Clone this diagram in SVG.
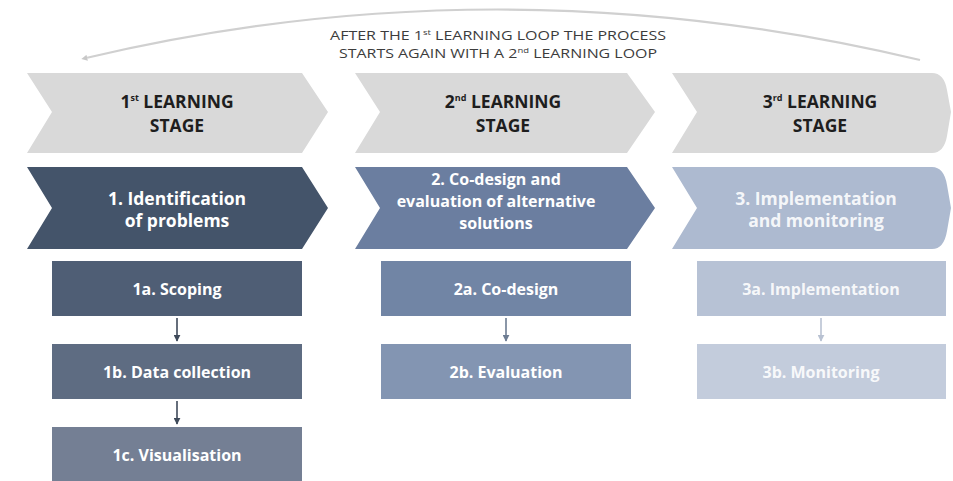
<svg xmlns="http://www.w3.org/2000/svg" width="953" height="481" viewBox="0 0 953 481">
<defs>
<marker id="loopHead" viewBox="0 0 10 10" refX="2" refY="5" markerWidth="6" markerHeight="6" orient="auto-start-reverse" markerUnits="userSpaceOnUse">
<path d="M0,0 L10,5 L0,10 z" fill="#c8c8c8"/>
</marker>
<marker id="ah1" viewBox="0 0 10 10" refX="9" refY="5" markerWidth="7" markerHeight="7" orient="auto" markerUnits="userSpaceOnUse"><path d="M0,0 L10,5 L0,10 z" fill="#3f4a5a"/></marker>
<marker id="ah2" viewBox="0 0 10 10" refX="9" refY="5" markerWidth="7" markerHeight="7" orient="auto" markerUnits="userSpaceOnUse"><path d="M0,0 L10,5 L0,10 z" fill="#6d7c92"/></marker>
<marker id="ah3" viewBox="0 0 10 10" refX="9" refY="5" markerWidth="7" markerHeight="7" orient="auto" markerUnits="userSpaceOnUse"><path d="M0,0 L10,5 L0,10 z" fill="#b9c2d2"/></marker>
</defs>
<style>
.stage{fill:#d9d9d9}
.sh{font-family:"Open Sans","Liberation Sans",sans-serif;font-weight:bold;font-size:17.5px;fill:#1e1e1e;text-anchor:middle}
.ph{font-family:"Open Sans","Liberation Sans",sans-serif;font-weight:bold;font-size:17.5px;fill:#ffffff;text-anchor:middle}
.ph2{font-family:"Open Sans","Liberation Sans",sans-serif;font-weight:bold;font-size:16px;fill:#ffffff;text-anchor:middle}
.bx{font-family:"Open Sans","Liberation Sans",sans-serif;font-weight:bold;font-size:16px;fill:#ffffff;text-anchor:middle}
.top{font-family:"Open Sans","Liberation Sans",sans-serif;font-size:13.5px;fill:#3c3c3c;text-anchor:middle}
.sup{font-size:8px}
.conn{stroke-width:1.6;fill:none}
</style>
<rect width="953" height="481" fill="#ffffff"/>

<g id="loop">
<path d="M 86 58 Q 500 -40 920 60" fill="none" stroke="#d0d0d0" stroke-width="2.2" marker-start="url(#loopHead)"/>
<text class="top" x="498" y="40" textLength="336" lengthAdjust="spacingAndGlyphs">AFTER THE 1<tspan class="sup" dy="-5">st</tspan><tspan dy="5"> LEARNING LOOP THE PROCESS</tspan></text>
<text class="top" x="498" y="58" textLength="318" lengthAdjust="spacingAndGlyphs">STARTS AGAIN WITH A 2<tspan class="sup" dy="-5">nd</tspan><tspan dy="5"> LEARNING LOOP</tspan></text>
</g>

<g id="stage1">
<path class="stage" d="M27 73 L302 73 L328 112 L302 153 L27 153 L52 112 Z"/>
<text class="sh" x="177" y="108">1<tspan font-size="9" dy="-7">st</tspan><tspan dy="7"> LEARNING</tspan></text>
<text class="sh" x="177" y="132">STAGE</text>
</g>
<g id="stage2">
<path class="stage" d="M355 73 L627 73 L655 112 L627 153 L355 153 L380 112 Z"/>
<text class="sh" x="503" y="108">2<tspan font-size="9" dy="-7">nd</tspan><tspan dy="7"> LEARNING</tspan></text>
<text class="sh" x="503" y="132">STAGE</text>
</g>
<g id="stage3">
<path class="stage" d="M672 73 L932 73 Q944 73 947 90 L951 112 L947 136 Q944 153 932 153 L672 153 L697 112 Z"/>
<text class="sh" x="820" y="108">3<tspan font-size="9" dy="-7">rd</tspan><tspan dy="7"> LEARNING</tspan></text>
<text class="sh" x="820" y="132">STAGE</text>
</g>

<g id="phase1">
<path d="M27 167 L302 167 L328 208 L302 249 L27 249 L52 208 Z" fill="#44546a"/>
<text class="ph" x="177" y="205">1. Identification</text>
<text class="ph" x="177" y="227">of problems</text>
</g>
<g id="phase2">
<path d="M355 167 L627 167 L655 208 L627 249 L355 249 L380 208 Z" fill="#6b7ea0"/>
<text class="ph2" x="496" y="185">2. Co-design and</text>
<text class="ph2" x="496" y="207">evaluation of alternative</text>
<text class="ph2" x="496" y="229">solutions</text>
</g>
<g id="phase3">
<path d="M672 167 L932 167 Q944 167 947 185 L951 208 L947 231 Q944 249 932 249 L672 249 L697 208 Z" fill="#adbad0"/>
<text class="ph" x="816" y="205" fill-opacity="0.9">3. Implementation</text>
<text class="ph" x="816" y="227" fill-opacity="0.9">and monitoring</text>
</g>

<g id="box1a"><rect x="52" y="261" width="250" height="55" fill="#4f5e75"/><text class="bx" x="177" y="295">1a. Scoping</text></g>
<g id="box1b"><rect x="52" y="344" width="250" height="55" fill="#5e6c82"/><text class="bx" x="177" y="378">1b. Data collection</text></g>
<g id="box1c"><rect x="52" y="427" width="250" height="55" fill="#747f94"/><text class="bx" x="177" y="461">1c. Visualisation</text></g>
<g id="box2a"><rect x="381" y="261" width="250" height="55" fill="#7185a5"/><text class="bx" x="506" y="295">2a. Co-design</text></g>
<g id="box2b"><rect x="381" y="344" width="250" height="55" fill="#8395b2"/><text class="bx" x="506" y="378">2b. Evaluation</text></g>
<g id="box3a"><rect x="697" y="261" width="249" height="55" fill="#b7c2d5"/><text class="bx" x="821" y="295" fill-opacity="0.9">3a. Implementation</text></g>
<g id="box3b"><rect x="697" y="344" width="249" height="55" fill="#c3ccdc"/><text class="bx" x="821" y="378" fill-opacity="0.9">3b. Monitoring</text></g>

<g id="connectors">
<line class="conn" x1="177" y1="318" x2="177" y2="341" stroke="#3f4a5a" marker-end="url(#ah1)"/>
<line class="conn" x1="177" y1="401" x2="177" y2="424" stroke="#3f4a5a" marker-end="url(#ah1)"/>
<line class="conn" x1="506" y1="318" x2="506" y2="341" stroke="#6d7c92" marker-end="url(#ah2)"/>
<line class="conn" x1="821" y1="318" x2="821" y2="341" stroke="#b9c2d2" marker-end="url(#ah3)"/>
</g>
</svg>
